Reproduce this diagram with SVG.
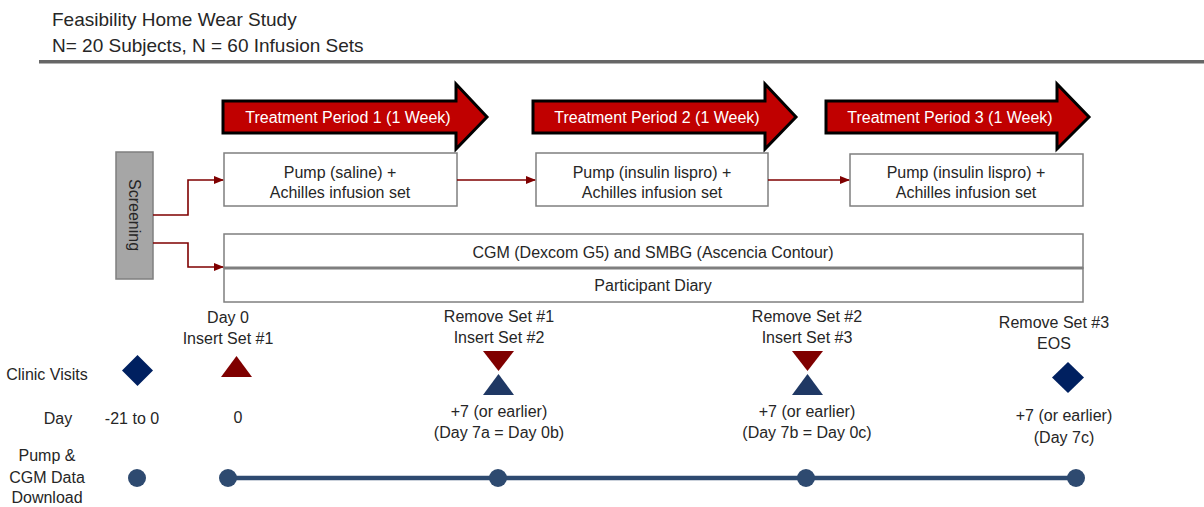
<svg xmlns="http://www.w3.org/2000/svg" width="1204" height="507" viewBox="0 0 1204 507">
<defs>
<marker id="ah" markerWidth="10" markerHeight="10" refX="9" refY="5" orient="auto" markerUnits="userSpaceOnUse">
<path d="M0,1 L10,5 L0,9 Z" fill="#7f0000"/>
</marker>
<style>
text{font-family:"Liberation Sans",Arial,sans-serif;fill:#262626;font-size:16px}
.t{font-size:19px}
.w{fill:#ffffff;font-size:16px}
.m{text-anchor:middle}
.box{fill:#ffffff;stroke:#7f7f7f;stroke-width:1.5}
.arr{fill:#c00000;stroke:#000000;stroke-width:3;stroke-linejoin:miter}
.con{fill:none;stroke:#7f0000;stroke-width:1.6}
.dl{fill:#2e4a70}
.red{fill:#7f0000}
.blu{fill:#1f3864}
.dia{fill:#002060}
</style>
</defs>
<rect width="1204" height="507" fill="#ffffff"/>
<g id="title">
<text class="t" x="52" y="26">Feasibility Home Wear Study</text>
<text class="t" x="52" y="52">N= 20 Subjects, N = 60 Infusion Sets</text>
<rect x="39" y="60" width="1165" height="3.5" fill="#666666"/>
</g>
<g id="period1">
<path class="arr" d="M223,101 H456 V84 L487,117 L456,149 V133 H223 Z"/>
<text class="w m" x="348" y="123">Treatment Period 1 (1 Week)</text>
</g>
<g id="period2">
<path class="arr" d="M533,101 H765 V84 L796,117 L765,149 V133 H533 Z"/>
<text class="w m" x="657" y="123">Treatment Period 2 (1 Week)</text>
</g>
<g id="period3">
<path class="arr" d="M826,101 H1057 V84 L1089,117 L1057,149 V133 H826 Z"/>
<text class="w m" x="950" y="123">Treatment Period 3 (1 Week)</text>
</g>
<g id="screening">
<rect x="116" y="152" width="37" height="127" fill="#a6a6a6" stroke="#7f7f7f" stroke-width="1.5"/>
<text class="m" transform="translate(134,215) rotate(90)" x="0" y="5">Screening</text>
</g>
<g id="box1">
<rect class="box" x="224" y="153" width="233" height="53"/>
<text class="m" x="340" y="178">Pump (saline) +</text>
<text class="m" x="340" y="198">Achilles infusion set</text>
</g>
<g id="box2">
<rect class="box" x="536" y="153" width="232" height="53"/>
<text class="m" x="652" y="178">Pump (insulin lispro) +</text>
<text class="m" x="652" y="198">Achilles infusion set</text>
</g>
<g id="box3">
<rect class="box" x="850" y="154" width="233" height="52"/>
<text class="m" x="966" y="178">Pump (insulin lispro) +</text>
<text class="m" x="966" y="198">Achilles infusion set</text>
</g>
<g id="cgm">
<rect class="box" x="224" y="234" width="859" height="34"/>
<text class="m" x="653" y="258">CGM (Dexcom G5) and SMBG (Ascencia Contour)</text>
</g>
<g id="diary">
<rect class="box" x="224" y="268" width="859" height="34"/>
<line x1="224" y1="268" x2="1083" y2="268" stroke="#7f7f7f" stroke-width="3"/>
<text class="m" x="653" y="291">Participant Diary</text>
</g>
<g id="connectors">
<path class="con" d="M153,215 H188 V180 H223" marker-end="url(#ah)"/>
<path class="con" d="M153,243 H188 V267 H223" marker-end="url(#ah)"/>
<path class="con" d="M457,180 H535" marker-end="url(#ah)"/>
<path class="con" d="M768,180 H849" marker-end="url(#ah)"/>
</g>
<g id="row-labels">
<text class="m" x="47" y="380">Clinic Visits</text>
<text class="m" x="58" y="424">Day</text>
<text class="m" x="47" y="461">Pump &amp;</text>
<text class="m" x="47" y="483">CGM Data</text>
<text class="m" x="47" y="503">Download</text>
</g>
<g id="screening-visit">
<path class="dia" d="M137.5,355 L153,370.5 L137.5,386 L122,370.5 Z"/>
<text class="m" x="132" y="424">-21 to 0</text>
<circle class="dl" cx="137" cy="478" r="9"/>
</g>
<g id="timeline">
<line x1="228" y1="478" x2="1076" y2="478" stroke="#2e4a70" stroke-width="4.5"/>
</g>
<g id="day0">
<text class="m" x="228" y="323">Day 0</text>
<text class="m" x="228" y="344">Insert Set #1</text>
<path class="red" d="M221,377 L236.5,356 L252,377 Z"/>
<text class="m" x="238" y="423">0</text>
<circle class="dl" cx="228" cy="478" r="9"/>
</g>
<g id="visit2">
<text class="m" x="499" y="322">Remove Set #1</text>
<text class="m" x="499" y="343">Insert Set #2</text>
<path class="red" d="M483,351 L514,351 L498.5,371 Z"/>
<path class="blu" d="M483,395 L498.5,374 L514,395 Z"/>
<text class="m" x="499" y="417">+7 (or earlier)</text>
<text class="m" x="499" y="438">(Day 7a = Day 0b)</text>
<circle class="dl" cx="498" cy="478" r="9"/>
</g>
<g id="visit3">
<text class="m" x="807" y="322">Remove Set #2</text>
<text class="m" x="807" y="343">Insert Set #3</text>
<path class="red" d="M792,351 L823,351 L807.5,371 Z"/>
<path class="blu" d="M792,395 L807.5,374 L823,395 Z"/>
<text class="m" x="807" y="417">+7 (or earlier)</text>
<text class="m" x="807" y="438">(Day 7b = Day 0c)</text>
<circle class="dl" cx="806" cy="478" r="9"/>
</g>
<g id="eos">
<text class="m" x="1054" y="328">Remove Set #3</text>
<text class="m" x="1054" y="349">EOS</text>
<path class="dia" d="M1068,362 L1084,377.5 L1068,393 L1052,377.5 Z"/>
<text class="m" x="1064" y="421">+7 (or earlier)</text>
<text class="m" x="1064" y="443">(Day 7c)</text>
<circle class="dl" cx="1076" cy="478" r="9"/>
</g>
</svg>
